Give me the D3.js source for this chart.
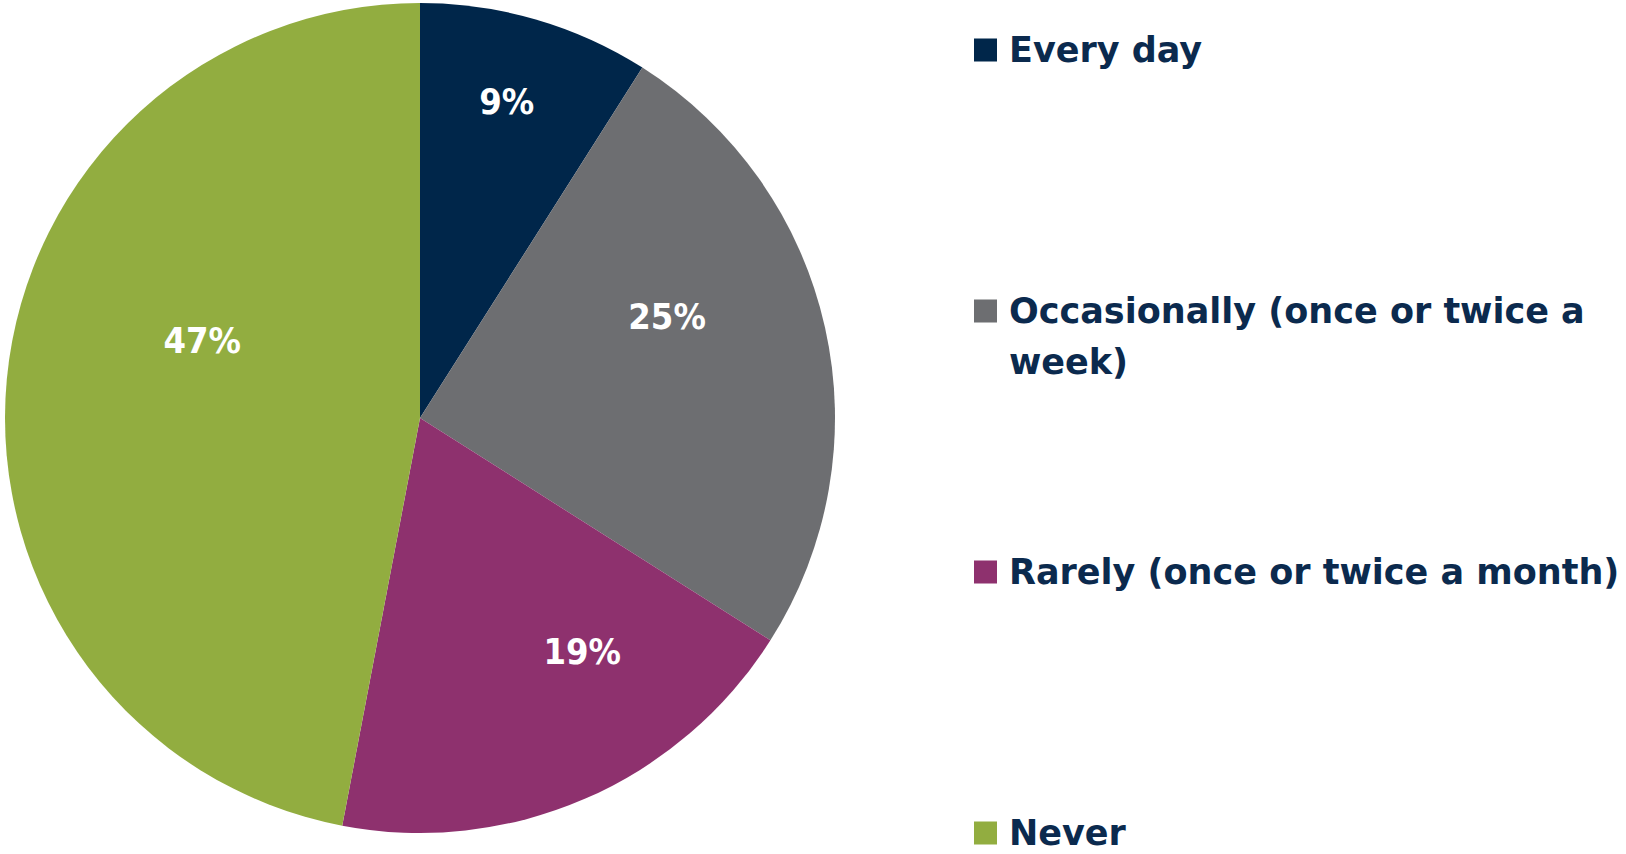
<!DOCTYPE html>
<html>
<head>
<meta charset="utf-8">
<script src="https://cdn.jsdelivr.net/npm/d3@7"></script>
<style>
  html, body { margin: 0; padding: 0; background: #ffffff; }
  svg { display: block; }
</style>
</head>
<body>
<svg id="chart" width="1626" height="854"></svg>
<script>
// Survey answers: how often
const categories = [
  "Every day",
  "Occasionally (once or twice a week)",
  "Rarely (once or twice a month)",
  "Never"
];
const values = [9, 25, 19, 47];
const valueLabels = ["9%", "25%", "19%", "47%"];
const colors = ["#00264A", "#6D6E71", "#8E316E", "#92AD40"];

// Where each percentage sits inside its slice: radius as a fraction of the
// pie radius, and a rotation (degrees) away from the slice's mid angle.
const labelPlacement = [
  { frac: 0.792, shift: -0.9 },
  { frac: 0.644, shift: -9.8 },
  { frac: 0.685, shift: -11.4 },
  { frac: 0.557, shift: 14.2 }
];

const svg = d3.select("#chart");
const cx = 420, cy = 418, radius = 415;
const fontFamily = "'DejaVu Sans', Verdana, sans-serif";
const labelFont = "'DejaVu Sans Condensed', 'DejaVu Sans', sans-serif";
const textColor = "#0B2A4E";

const data = categories.map((c, i) => ({ category: c, value: values[i], label: valueLabels[i], color: colors[i] }));

const pie = d3.pie().sort(null).value(d => d.value);
const arcs = pie(data);
const arc = d3.arc().innerRadius(0).outerRadius(radius);

const g = svg.append("g").attr("transform", `translate(${cx},${cy})`);

g.selectAll("path.slice")
  .data(arcs)
  .join("path")
  .attr("class", "slice")
  .attr("d", arc)
  .attr("fill", d => d.data.color);

g.selectAll("text.value")
  .data(arcs)
  .join("text")
  .attr("class", "value")
  .attr("transform", (d, i) => {
    const p = labelPlacement[i];
    const a = (d.startAngle + d.endAngle) / 2 + p.shift * Math.PI / 180;
    const r = radius * p.frac;
    return `translate(${r * Math.sin(a)},${-r * Math.cos(a)})`;
  })
  .attr("text-anchor", "middle")
  .attr("dy", "0.36em")
  .attr("fill", "#ffffff")
  .style("font-family", labelFont)
  .style("font-weight", "bold")
  .style("font-size", "36px")
  .text(d => d.data.label);

// Legend
const legendX = 974, legendTop = 50, legendStep = 261;
const swatch = 23, textX = 1009, maxTextWidth = 612, lineHeight = 51;

const legend = svg.append("g").attr("class", "legend");
const items = legend.selectAll("g.item")
  .data(data)
  .join("g")
  .attr("class", "item")
  .attr("transform", (d, i) => `translate(0,${legendTop + i * legendStep})`);

items.append("rect")
  .attr("x", legendX)
  .attr("y", -swatch / 2)
  .attr("width", swatch)
  .attr("height", swatch)
  .attr("fill", d => d.color);

items.append("text")
  .attr("x", textX)
  .attr("y", 12)
  .attr("fill", textColor)
  .style("font-family", fontFamily)
  .style("font-weight", "bold")
  .style("font-size", "35px")
  .each(function (d) {
    const text = d3.select(this);
    const words = d.category.split(" ");
    let line = [];
    let tspan = text.append("tspan").attr("x", textX).attr("dy", 0);
    words.forEach(w => {
      line.push(w);
      tspan.text(line.join(" "));
      if (tspan.node().getComputedTextLength() > maxTextWidth && line.length > 1) {
        line.pop();
        tspan.text(line.join(" "));
        line = [w];
        tspan = text.append("tspan").attr("x", textX).attr("dy", lineHeight).text(w);
      }
    });
  });
</script>
</body>
</html>
